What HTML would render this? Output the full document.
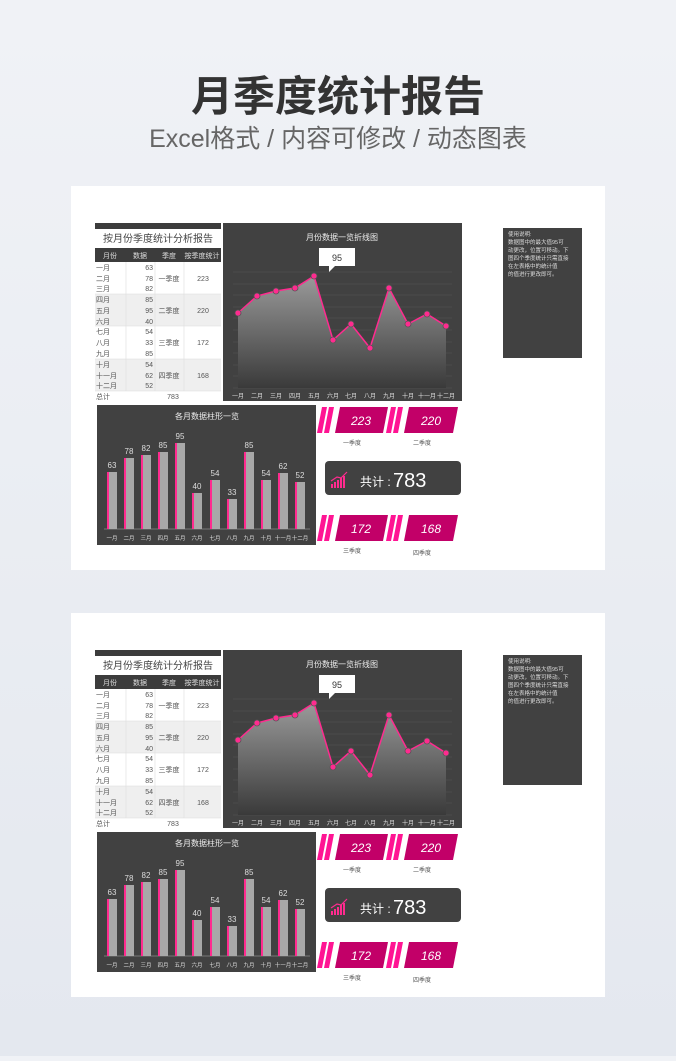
<!DOCTYPE html><html><head><meta charset="utf-8"><style>
body{margin:0;width:676px;height:1056px;overflow:hidden;background:linear-gradient(#f0f2f6,#e4e8ef);font-family:"Liberation Sans","Noto Sans CJK SC",sans-serif}
svg text{font-family:"Liberation Sans","Noto Sans CJK SC",sans-serif}
</style></head><body>
<svg width="676" height="1056" viewBox="0 0 676 1056" xmlns="http://www.w3.org/2000/svg">
<defs><linearGradient id="ar" x1="0" y1="0" x2="0" y2="1"><stop offset="0" stop-color="#9a9a9a"/><stop offset="1" stop-color="#3a3a3a"/></linearGradient></defs>
<text x="338" y="111" text-anchor="middle" font-size="42" font-weight="bold" fill="#333">月季度统计报告</text>
<text x="338" y="147" text-anchor="middle" font-size="25" fill="#666">Excel格式 / 内容可修改 / 动态图表</text>
<g id="p1">
<rect x="71" y="186" width="534" height="384" fill="#fff"/>
<rect x="95" y="223" width="126" height="6" fill="#3c3c3c"/>
<text x="158" y="242" text-anchor="middle" font-size="10" fill="#444">按月份季度统计分析报告</text>
<rect x="95" y="248" width="126" height="14" fill="#3c3c3c"/>
<g font-size="7" fill="#ddd" text-anchor="middle"><text x="110" y="258">月份</text><text x="140" y="258">数据</text><text x="169" y="258">季度</text><text x="202" y="258">按季度统计</text></g>
<rect x="95" y="294" width="126" height="32" fill="#efefef"/><rect x="95" y="359" width="126" height="32" fill="#efefef"/>
<g stroke="#ddd" stroke-width="0.6"><line x1="95" y1="294" x2="221" y2="294"/><line x1="95" y1="326" x2="221" y2="326"/><line x1="95" y1="359" x2="221" y2="359"/><line x1="95" y1="391" x2="221" y2="391"/><line x1="126" y1="262" x2="126" y2="391"/><line x1="155" y1="262" x2="155" y2="391"/><line x1="184" y1="262" x2="184" y2="391"/></g>
<g font-size="7" fill="#555"><text x="96" y="270">一月</text><text x="96" y="281">二月</text><text x="96" y="291">三月</text><text x="96" y="302">四月</text><text x="96" y="313">五月</text><text x="96" y="324">六月</text><text x="96" y="334">七月</text><text x="96" y="345">八月</text><text x="96" y="356">九月</text><text x="96" y="367">十月</text><text x="96" y="378">十一月</text><text x="96" y="388">十二月</text><text x="96" y="399">总计</text></g>
<g font-size="7" fill="#555" text-anchor="end"><text x="153" y="270">63</text><text x="153" y="281">78</text><text x="153" y="291">82</text><text x="153" y="302">85</text><text x="153" y="313">95</text><text x="153" y="324">40</text><text x="153" y="334">54</text><text x="153" y="345">33</text><text x="153" y="356">85</text><text x="153" y="367">54</text><text x="153" y="378">62</text><text x="153" y="388">52</text></g>
<g font-size="7" fill="#555" text-anchor="middle"><text x="169" y="281">一季度</text><text x="169" y="313">二季度</text><text x="169" y="345">三季度</text><text x="169" y="378">四季度</text><text x="203" y="281">223</text><text x="203" y="313">220</text><text x="203" y="345">172</text><text x="203" y="378">168</text><text x="173" y="399">783</text></g>
<rect x="223" y="223" width="239" height="178" fill="#414141"/>
<text x="342" y="240" text-anchor="middle" font-size="8" fill="#eee">月份数据一览折线图</text>
<g stroke="#555" stroke-width="0.6"><line x1="233" y1="272" x2="452" y2="272"/><line x1="233" y1="284" x2="452" y2="284"/><line x1="233" y1="295" x2="452" y2="295"/><line x1="233" y1="307" x2="452" y2="307"/><line x1="233" y1="318" x2="452" y2="318"/><line x1="233" y1="330" x2="452" y2="330"/><line x1="233" y1="342" x2="452" y2="342"/><line x1="233" y1="353" x2="452" y2="353"/><line x1="233" y1="365" x2="452" y2="365"/><line x1="233" y1="376" x2="452" y2="376"/><line x1="233" y1="388" x2="452" y2="388"/></g>
<polygon points="238,388 238,313 257,296 276,291 295,288 314,276 333,340 351,324 370,348 389,288 408,324 427,314 446,326 446,388" fill="url(#ar)"/>
<polyline points="238,313 257,296 276,291 295,288 314,276 333,340 351,324 370,348 389,288 408,324 427,314 446,326" fill="none" stroke="#ff2b8f" stroke-width="1.5"/>
<g fill="#ff2b8f" stroke="#555" stroke-width="0.8"><circle cx="238" cy="313" r="3"/><circle cx="257" cy="296" r="3"/><circle cx="276" cy="291" r="3"/><circle cx="295" cy="288" r="3"/><circle cx="314" cy="276" r="3"/><circle cx="333" cy="340" r="3"/><circle cx="351" cy="324" r="3"/><circle cx="370" cy="348" r="3"/><circle cx="389" cy="288" r="3"/><circle cx="408" cy="324" r="3"/><circle cx="427" cy="314" r="3"/><circle cx="446" cy="326" r="3"/></g>
<path d="M319,248h36v18h-20l-6,6v-6h-10z" fill="#fff"/><text x="337" y="261" text-anchor="middle" font-size="9" fill="#333">95</text>
<g font-size="6" fill="#ddd" text-anchor="middle"><text x="238" y="398">一月</text><text x="257" y="398">二月</text><text x="276" y="398">三月</text><text x="295" y="398">四月</text><text x="314" y="398">五月</text><text x="333" y="398">六月</text><text x="351" y="398">七月</text><text x="370" y="398">八月</text><text x="389" y="398">九月</text><text x="408" y="398">十月</text><text x="427" y="398">十一月</text><text x="446" y="398">十二月</text></g>
<rect x="97" y="405" width="219" height="140" fill="#414141"/>
<text x="207" y="419" text-anchor="middle" font-size="8" fill="#eee">各月数据柱形一览</text>
<line x1="104" y1="529" x2="310" y2="529" stroke="#888" stroke-width="0.8"/>
<g fill="#a8a8a8"><rect x="107" y="472" width="10" height="57"/><rect x="124" y="458" width="10" height="71"/><rect x="141" y="455" width="10" height="74"/><rect x="158" y="452" width="10" height="77"/><rect x="175" y="443" width="10" height="86"/><rect x="192" y="493" width="10" height="36"/><rect x="210" y="480" width="10" height="49"/><rect x="227" y="499" width="10" height="30"/><rect x="244" y="452" width="10" height="77"/><rect x="261" y="480" width="10" height="49"/><rect x="278" y="473" width="10" height="56"/><rect x="295" y="482" width="10" height="47"/></g>
<g fill="#ff2b8f"><rect x="107" y="472" width="2" height="57"/><rect x="124" y="458" width="2" height="71"/><rect x="141" y="455" width="2" height="74"/><rect x="158" y="452" width="2" height="77"/><rect x="175" y="443" width="2" height="86"/><rect x="192" y="493" width="2" height="36"/><rect x="210" y="480" width="2" height="49"/><rect x="227" y="499" width="2" height="30"/><rect x="244" y="452" width="2" height="77"/><rect x="261" y="480" width="2" height="49"/><rect x="278" y="473" width="2" height="56"/><rect x="295" y="482" width="2" height="47"/></g>
<g font-size="8" fill="#ddd" text-anchor="middle"><text x="112" y="468">63</text><text x="129" y="454">78</text><text x="146" y="451">82</text><text x="163" y="448">85</text><text x="180" y="439">95</text><text x="197" y="489">40</text><text x="215" y="476">54</text><text x="232" y="495">33</text><text x="249" y="448">85</text><text x="266" y="476">54</text><text x="283" y="469">62</text><text x="300" y="478">52</text></g>
<g font-size="5.5" fill="#ddd" text-anchor="middle"><text x="112" y="540">一月</text><text x="129" y="540">二月</text><text x="146" y="540">三月</text><text x="163" y="540">四月</text><text x="180" y="540">五月</text><text x="197" y="540">六月</text><text x="215" y="540">七月</text><text x="232" y="540">八月</text><text x="249" y="540">九月</text><text x="266" y="540">十月</text><text x="283" y="540">十一月</text><text x="300" y="540">十二月</text></g>
<g fill="#ff1493"><polygon points="322,407 327,407 322,433 317,433"/><polygon points="329,407 334,407 329,433 324,433"/><polygon points="391,407 396,407 391,433 386,433"/><polygon points="398,407 403,407 398,433 393,433"/><polygon points="322,515 327,515 322,541 317,541"/><polygon points="329,515 334,515 329,541 324,541"/><polygon points="391,515 396,515 391,541 386,541"/><polygon points="398,515 403,515 398,541 393,541"/></g>
<g fill="#c20068"><polygon points="340,407 388,407 383,433 335,433"/><polygon points="409,407 458,407 453,433 404,433"/><polygon points="340,515 388,515 383,541 335,541"/><polygon points="409,515 458,515 453,541 404,541"/></g>
<g font-size="12" font-style="italic" fill="#fff" text-anchor="middle"><text x="361" y="425">223</text><text x="431" y="425">220</text><text x="361" y="533">172</text><text x="431" y="533">168</text></g>
<g font-size="6" fill="#555" text-anchor="middle"><text x="352" y="445">一季度</text><text x="422" y="445">二季度</text><text x="352" y="553">三季度</text><text x="422" y="555">四季度</text></g>
<rect x="325" y="461" width="136" height="34" rx="4" fill="#414141"/>
<g fill="#ff2b8f"><rect x="331" y="484" width="2" height="4"/><rect x="334" y="482" width="2" height="6"/><rect x="337" y="480" width="2" height="8"/><rect x="340" y="478" width="2" height="10"/><rect x="343" y="476" width="2" height="12"/></g>
<polyline points="331,481 337,477 341,478 347,472" fill="none" stroke="#ff2b8f" stroke-width="1.2"/>
<text x="360" y="486" font-size="12" fill="#fff">共计 : </text><text x="393" y="487" font-size="20" fill="#fff">783</text>
<rect x="503" y="228" width="79" height="130" fill="#414141"/>
<g font-size="5.5" fill="#ddd"><text x="508" y="236">使用说明:</text><text x="508" y="244">数据图中的最大值95可</text><text x="508" y="252">动更改，位置可移动。下</text><text x="508" y="260">图四个季度统计只需直接</text><text x="508" y="268">在左表格中的统计值</text><text x="508" y="276">的值进行更改即可。</text></g>
</g>
<g transform="translate(0,427)">
<rect x="71" y="186" width="534" height="384" fill="#fff"/>
<rect x="95" y="223" width="126" height="6" fill="#3c3c3c"/>
<text x="158" y="242" text-anchor="middle" font-size="10" fill="#444">按月份季度统计分析报告</text>
<rect x="95" y="248" width="126" height="14" fill="#3c3c3c"/>
<g font-size="7" fill="#ddd" text-anchor="middle"><text x="110" y="258">月份</text><text x="140" y="258">数据</text><text x="169" y="258">季度</text><text x="202" y="258">按季度统计</text></g>
<rect x="95" y="294" width="126" height="32" fill="#efefef"/><rect x="95" y="359" width="126" height="32" fill="#efefef"/>
<g stroke="#ddd" stroke-width="0.6"><line x1="95" y1="294" x2="221" y2="294"/><line x1="95" y1="326" x2="221" y2="326"/><line x1="95" y1="359" x2="221" y2="359"/><line x1="95" y1="391" x2="221" y2="391"/><line x1="126" y1="262" x2="126" y2="391"/><line x1="155" y1="262" x2="155" y2="391"/><line x1="184" y1="262" x2="184" y2="391"/></g>
<g font-size="7" fill="#555"><text x="96" y="270">一月</text><text x="96" y="281">二月</text><text x="96" y="291">三月</text><text x="96" y="302">四月</text><text x="96" y="313">五月</text><text x="96" y="324">六月</text><text x="96" y="334">七月</text><text x="96" y="345">八月</text><text x="96" y="356">九月</text><text x="96" y="367">十月</text><text x="96" y="378">十一月</text><text x="96" y="388">十二月</text><text x="96" y="399">总计</text></g>
<g font-size="7" fill="#555" text-anchor="end"><text x="153" y="270">63</text><text x="153" y="281">78</text><text x="153" y="291">82</text><text x="153" y="302">85</text><text x="153" y="313">95</text><text x="153" y="324">40</text><text x="153" y="334">54</text><text x="153" y="345">33</text><text x="153" y="356">85</text><text x="153" y="367">54</text><text x="153" y="378">62</text><text x="153" y="388">52</text></g>
<g font-size="7" fill="#555" text-anchor="middle"><text x="169" y="281">一季度</text><text x="169" y="313">二季度</text><text x="169" y="345">三季度</text><text x="169" y="378">四季度</text><text x="203" y="281">223</text><text x="203" y="313">220</text><text x="203" y="345">172</text><text x="203" y="378">168</text><text x="173" y="399">783</text></g>
<rect x="223" y="223" width="239" height="178" fill="#414141"/>
<text x="342" y="240" text-anchor="middle" font-size="8" fill="#eee">月份数据一览折线图</text>
<g stroke="#555" stroke-width="0.6"><line x1="233" y1="272" x2="452" y2="272"/><line x1="233" y1="284" x2="452" y2="284"/><line x1="233" y1="295" x2="452" y2="295"/><line x1="233" y1="307" x2="452" y2="307"/><line x1="233" y1="318" x2="452" y2="318"/><line x1="233" y1="330" x2="452" y2="330"/><line x1="233" y1="342" x2="452" y2="342"/><line x1="233" y1="353" x2="452" y2="353"/><line x1="233" y1="365" x2="452" y2="365"/><line x1="233" y1="376" x2="452" y2="376"/><line x1="233" y1="388" x2="452" y2="388"/></g>
<polygon points="238,388 238,313 257,296 276,291 295,288 314,276 333,340 351,324 370,348 389,288 408,324 427,314 446,326 446,388" fill="url(#ar)"/>
<polyline points="238,313 257,296 276,291 295,288 314,276 333,340 351,324 370,348 389,288 408,324 427,314 446,326" fill="none" stroke="#ff2b8f" stroke-width="1.5"/>
<g fill="#ff2b8f" stroke="#555" stroke-width="0.8"><circle cx="238" cy="313" r="3"/><circle cx="257" cy="296" r="3"/><circle cx="276" cy="291" r="3"/><circle cx="295" cy="288" r="3"/><circle cx="314" cy="276" r="3"/><circle cx="333" cy="340" r="3"/><circle cx="351" cy="324" r="3"/><circle cx="370" cy="348" r="3"/><circle cx="389" cy="288" r="3"/><circle cx="408" cy="324" r="3"/><circle cx="427" cy="314" r="3"/><circle cx="446" cy="326" r="3"/></g>
<path d="M319,248h36v18h-20l-6,6v-6h-10z" fill="#fff"/><text x="337" y="261" text-anchor="middle" font-size="9" fill="#333">95</text>
<g font-size="6" fill="#ddd" text-anchor="middle"><text x="238" y="398">一月</text><text x="257" y="398">二月</text><text x="276" y="398">三月</text><text x="295" y="398">四月</text><text x="314" y="398">五月</text><text x="333" y="398">六月</text><text x="351" y="398">七月</text><text x="370" y="398">八月</text><text x="389" y="398">九月</text><text x="408" y="398">十月</text><text x="427" y="398">十一月</text><text x="446" y="398">十二月</text></g>
<rect x="97" y="405" width="219" height="140" fill="#414141"/>
<text x="207" y="419" text-anchor="middle" font-size="8" fill="#eee">各月数据柱形一览</text>
<line x1="104" y1="529" x2="310" y2="529" stroke="#888" stroke-width="0.8"/>
<g fill="#a8a8a8"><rect x="107" y="472" width="10" height="57"/><rect x="124" y="458" width="10" height="71"/><rect x="141" y="455" width="10" height="74"/><rect x="158" y="452" width="10" height="77"/><rect x="175" y="443" width="10" height="86"/><rect x="192" y="493" width="10" height="36"/><rect x="210" y="480" width="10" height="49"/><rect x="227" y="499" width="10" height="30"/><rect x="244" y="452" width="10" height="77"/><rect x="261" y="480" width="10" height="49"/><rect x="278" y="473" width="10" height="56"/><rect x="295" y="482" width="10" height="47"/></g>
<g fill="#ff2b8f"><rect x="107" y="472" width="2" height="57"/><rect x="124" y="458" width="2" height="71"/><rect x="141" y="455" width="2" height="74"/><rect x="158" y="452" width="2" height="77"/><rect x="175" y="443" width="2" height="86"/><rect x="192" y="493" width="2" height="36"/><rect x="210" y="480" width="2" height="49"/><rect x="227" y="499" width="2" height="30"/><rect x="244" y="452" width="2" height="77"/><rect x="261" y="480" width="2" height="49"/><rect x="278" y="473" width="2" height="56"/><rect x="295" y="482" width="2" height="47"/></g>
<g font-size="8" fill="#ddd" text-anchor="middle"><text x="112" y="468">63</text><text x="129" y="454">78</text><text x="146" y="451">82</text><text x="163" y="448">85</text><text x="180" y="439">95</text><text x="197" y="489">40</text><text x="215" y="476">54</text><text x="232" y="495">33</text><text x="249" y="448">85</text><text x="266" y="476">54</text><text x="283" y="469">62</text><text x="300" y="478">52</text></g>
<g font-size="5.5" fill="#ddd" text-anchor="middle"><text x="112" y="540">一月</text><text x="129" y="540">二月</text><text x="146" y="540">三月</text><text x="163" y="540">四月</text><text x="180" y="540">五月</text><text x="197" y="540">六月</text><text x="215" y="540">七月</text><text x="232" y="540">八月</text><text x="249" y="540">九月</text><text x="266" y="540">十月</text><text x="283" y="540">十一月</text><text x="300" y="540">十二月</text></g>
<g fill="#ff1493"><polygon points="322,407 327,407 322,433 317,433"/><polygon points="329,407 334,407 329,433 324,433"/><polygon points="391,407 396,407 391,433 386,433"/><polygon points="398,407 403,407 398,433 393,433"/><polygon points="322,515 327,515 322,541 317,541"/><polygon points="329,515 334,515 329,541 324,541"/><polygon points="391,515 396,515 391,541 386,541"/><polygon points="398,515 403,515 398,541 393,541"/></g>
<g fill="#c20068"><polygon points="340,407 388,407 383,433 335,433"/><polygon points="409,407 458,407 453,433 404,433"/><polygon points="340,515 388,515 383,541 335,541"/><polygon points="409,515 458,515 453,541 404,541"/></g>
<g font-size="12" font-style="italic" fill="#fff" text-anchor="middle"><text x="361" y="425">223</text><text x="431" y="425">220</text><text x="361" y="533">172</text><text x="431" y="533">168</text></g>
<g font-size="6" fill="#555" text-anchor="middle"><text x="352" y="445">一季度</text><text x="422" y="445">二季度</text><text x="352" y="553">三季度</text><text x="422" y="555">四季度</text></g>
<rect x="325" y="461" width="136" height="34" rx="4" fill="#414141"/>
<g fill="#ff2b8f"><rect x="331" y="484" width="2" height="4"/><rect x="334" y="482" width="2" height="6"/><rect x="337" y="480" width="2" height="8"/><rect x="340" y="478" width="2" height="10"/><rect x="343" y="476" width="2" height="12"/></g>
<polyline points="331,481 337,477 341,478 347,472" fill="none" stroke="#ff2b8f" stroke-width="1.2"/>
<text x="360" y="486" font-size="12" fill="#fff">共计 : </text><text x="393" y="487" font-size="20" fill="#fff">783</text>
<rect x="503" y="228" width="79" height="130" fill="#414141"/>
<g font-size="5.5" fill="#ddd"><text x="508" y="236">使用说明:</text><text x="508" y="244">数据图中的最大值95可</text><text x="508" y="252">动更改，位置可移动。下</text><text x="508" y="260">图四个季度统计只需直接</text><text x="508" y="268">在左表格中的统计值</text><text x="508" y="276">的值进行更改即可。</text></g>
</g>
</svg>
</body></html>
